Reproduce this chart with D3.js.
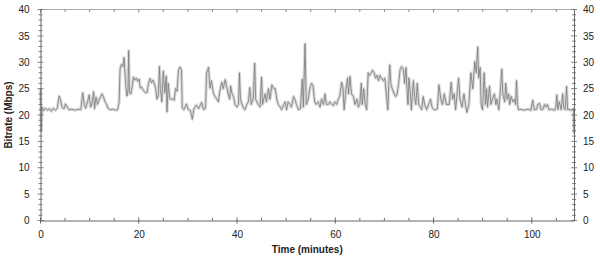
<!DOCTYPE html>
<html><head><meta charset="utf-8">
<script src="https://cdn.jsdelivr.net/npm/d3@7"></script>
<style>body{margin:0;background:#fff}svg{display:block;font-family:"Liberation Sans",Arial,sans-serif}</style>
</head><body><svg id="c" width="600" height="256"></svg>
<script>
const xTicks = [0, 20, 40, 60, 80, 100];
const yTicks = [0, 5, 10, 15, 20, 25, 30, 35, 40];
const timeMin = [0,0.15,0.3,0.6,1.0,1.4,1.8,2.2,2.6,3.0,3.4,3.8,4.1,4.4,4.8,5.1,5.4,5.8,6.4,7.0,7.6,8.2,8.6,8.9,9.2,9.6,9.9,10.2,10.5,10.8,11.0,11.3,11.6,11.9,12.2,12.5,12.8,13.1,13.4,13.8,14.3,14.8,15.3,15.7,16.0,16.2,16.5,16.8,17.0,17.2,17.4,17.6,17.8,17.95,18.1,18.4,18.7,18.9,19.2,19.5,19.8,20.1,20.3,20.6,21.0,21.4,21.7,22.0,22.3,22.6,22.9,23.2,23.5,23.7,24.0,24.2,24.4,24.7,25.0,25.3,25.6,25.75,26.0,26.3,26.6,26.9,27.2,27.5,27.8,28.1,28.4,28.7,28.85,29.2,29.7,30.1,30.5,30.9,31.2,31.7,32.2,32.8,33.2,33.6,33.8,34.2,34.5,34.8,35.2,35.5,35.9,36.2,36.5,36.9,37.2,37.6,37.9,38.2,38.5,38.7,39.0,39.3,39.6,40.0,40.3,40.5,40.7,41.2,41.6,42.0,42.3,42.6,42.9,43.3,43.6,43.8,44.3,44.7,45.0,45.2,45.7,46.0,46.4,46.7,47.1,47.5,47.8,48.1,48.4,48.8,49.1,49.5,49.8,50.1,50.4,50.8,51.1,51.5,51.8,52.1,52.5,52.9,53.3,53.5,53.85,54.1,54.5,54.9,55.2,55.5,55.8,56.1,56.5,56.9,57.2,57.6,57.9,58.2,58.6,58.9,59.3,59.6,59.9,60.3,60.6,60.9,61.3,61.6,61.8,62.2,62.5,62.7,63.0,63.3,63.7,64.0,64.4,64.7,65.0,65.3,65.5,65.8,66.1,66.4,66.7,67.0,67.3,67.6,67.9,68.2,68.5,68.8,69.1,69.4,69.8,70.1,70.4,70.7,70.95,71.1,71.3,71.6,72.0,72.3,72.6,72.9,73.2,73.5,73.9,74.1,74.4,74.6,74.8,75.0,75.3,75.5,75.9,76.2,76.4,76.7,77.0,77.3,77.6,77.9,78.2,78.6,79.0,79.4,79.7,80.1,80.5,80.8,81.1,81.5,81.8,82.2,82.6,83.2,83.6,83.9,84.2,84.5,84.9,85.1,85.4,85.8,86.2,86.5,86.8,87.2,87.6,88.0,88.4,88.7,89.0,89.2,89.5,89.7,90.0,90.3,90.6,90.8,91.0,91.4,91.7,92.0,92.4,92.7,92.9,93.3,93.6,93.9,94.1,94.5,94.7,95.0,95.3,95.5,95.8,96.2,96.5,96.7,96.9,97.1,97.3,97.8,98.3,98.8,99.3,99.8,100.2,100.5,101.0,101.2,101.6,101.9,102.3,102.6,102.9,103.2,103.5,104.0,104.6,104.9,105.1,105.3,105.6,106.0,106.3,106.5,106.8,107.1,107.3,107.6,107.9,108.2,108.5,108.6];
const bitrate = [25,17,21.5,20.8,21.3,20.9,21.2,20.7,21.3,20.9,21.2,23.6,22.8,21.4,21.2,22.1,21.6,21.0,21.1,20.9,21.1,21.0,24.2,22.0,21.3,22.6,23.8,21.5,22.2,24.4,21.2,23.4,22.0,22.8,23.4,24.0,23.5,22.6,22.1,21.2,21.0,21.1,20.9,21.0,22.4,28.8,29.6,29.2,30.9,28.0,25.2,23.6,24.5,32.2,24.2,24.0,25.6,27.2,26.6,27.0,26.4,26.8,25.1,25.3,24.6,24.2,24.3,26.1,26.9,26.1,26.6,25.9,24.6,23.0,23.8,29.2,25.0,22.5,28.3,24.2,27.4,20.6,26.0,23.2,22.9,23.1,22.8,25.0,24.5,28.6,29.1,28.5,21.3,21.0,22.1,21.0,20.9,19.2,21.1,21.9,21.2,22.4,21.0,21.3,28.0,29.0,25.1,26.5,24.1,23.5,23.0,22.5,24.5,26.2,25.0,26.7,25.4,24.0,23.0,25.5,24.0,23.5,22.0,21.5,22.0,28.0,23.0,21.5,21.0,22.0,22.5,25.2,22.0,23.0,29.8,23.0,22.0,21.5,27.2,22.0,24.0,22.5,25.0,23.0,25.7,25.0,25.0,23.0,22.0,21.5,21.0,22.0,22.5,21.0,22.5,22.0,21.5,23.5,23.0,22.0,21.0,21.2,26.8,21.5,33.5,22.0,23.0,25.4,26.0,25.5,22.5,22.0,22.5,21.5,23.0,22.0,24.0,22.0,22.0,22.5,22.0,21.8,22.5,22.0,23.0,23.5,26.2,25.0,21.0,25.0,27.0,24.0,27.3,24.0,23.5,22.0,23.0,21.5,22.0,26.0,22.0,25.0,22.0,21.0,28.0,27.5,28.0,28.5,28.0,27.0,27.5,26.5,27.5,27.0,26.5,27.0,24.0,21.0,27.0,29.5,26.0,25.0,24.0,23.5,24.0,26.0,28.6,29.2,28.5,26.0,29.0,25.0,22.0,27.0,24.0,21.0,26.5,23.0,22.0,26.0,22.0,21.5,21.0,23.5,22.0,21.0,22.0,23.0,21.5,21.0,21.0,21.2,25.7,23.0,22.0,24.0,22.0,22.0,26.2,23.0,24.0,21.0,25.0,27.0,23.0,21.5,24.0,22.0,20.5,22.0,28.0,25.0,30.1,28.0,32.9,27.0,29.0,22.0,21.0,28.0,22.0,25.0,21.5,25.5,22.0,23.0,24.0,22.0,23.0,21.0,24.5,28.7,24.0,22.5,26.0,23.0,24.0,22.0,23.5,22.5,23.0,22.0,26.5,22.0,21.0,21.1,20.9,21.0,21.1,20.9,22.8,21.0,21.1,22.0,22.2,21.0,21.1,22.0,21.5,22.0,21.0,21.1,20.9,21.5,23.8,21.0,22.5,21.0,24.0,21.5,21.0,25.4,21.0,21.1,20.9,21.0,21.2,16.5];

const svg = d3.select("#c");
const L = 40.5, R = 574, T = 9.5, B = 220.5;
const x = d3.scaleLinear().domain([0, 108.6]).range([L, R]);
const y = d3.scaleLinear().domain([0, 40]).range([B, T]);
const data = timeMin.map((t, i) => ({t, v: bitrate[i]}));
const line = d3.line().x(d => x(d.t)).y(d => y(d.v));

// data: light halo then thin darker trace
svg.append("path").datum(data).attr("d", line).attr("fill", "none")
  .attr("stroke", "#dadada").attr("stroke-width", 3.2).attr("stroke-linejoin", "round");
svg.append("path").datum(data).attr("d", line).attr("fill", "none")
  .attr("stroke", "#7a7a7a").attr("stroke-width", 0.8).attr("stroke-linejoin", "round");

// frame top
svg.append("line").attr("x1", L).attr("x2", R).attr("y1", T).attr("y2", T).attr("stroke", "#aaa");
const axc = "#666";

// bottom axis
const gb = svg.append("g").attr("transform", `translate(0,${B})`)
  .call(d3.axisBottom(x).tickValues(xTicks).tickSize(0).tickFormat(d3.format("d")).tickPadding(10));
gb.select(".domain").attr("stroke", axc);
gb.selectAll("text").attr("font-size", 10).attr("fill", "#222").attr("font-family", "Liberation Sans, Arial, sans-serif");
const minorX = d3.range(0, 108.6, 5);
minorX.forEach(t => {
  const major = t % 20 === 0;
  svg.append("line").attr("x1", x(t)).attr("x2", x(t)).attr("y1", B - (major ? 3 : 2.5)).attr("y2", B + (major ? 3 : 0)).attr("stroke", axc);
  svg.append("line").attr("x1", x(t)).attr("x2", x(t)).attr("y1", T).attr("y2", T + (major ? 3 : 2.5)).attr("stroke", "#888");
});

// left axis
const gl = svg.append("g").attr("transform", `translate(${L},0)`)
  .call(d3.axisLeft(y).tickValues(yTicks).tickSize(0).tickPadding(11));
gl.select(".domain").attr("stroke", axc);
gl.selectAll("text").attr("font-size", 10).attr("fill", "#222").attr("font-family", "Liberation Sans, Arial, sans-serif");
// right axis
const gr = svg.append("g").attr("transform", `translate(${R},0)`)
  .call(d3.axisRight(y).tickValues(yTicks).tickSize(0).tickPadding(9));
gr.select(".domain").attr("stroke", axc);
gr.selectAll("text").attr("font-size", 10).attr("fill", "#222").attr("font-family", "Liberation Sans, Arial, sans-serif");
d3.range(0, 41, 1).forEach(v => {
  const major = v % 5 === 0;
  const h = major ? 3 : 2;
  [L, R].forEach(ax => {
    svg.append("line").attr("x1", ax - h).attr("x2", ax + h).attr("y1", y(v)).attr("y2", y(v)).attr("stroke", axc).attr("stroke-width", 0.8);
  });
});

// titles
svg.append("text").attr("x", (L + R) / 2).attr("y", 253).attr("text-anchor", "middle")
  .attr("font-size", 10).attr("font-weight", "bold").attr("fill", "#222").text("Time (minutes)");
svg.append("text").attr("transform", `translate(12,${(T + B) / 2}) rotate(-90)`).attr("text-anchor", "middle")
  .attr("font-size", 10).attr("font-weight", "bold").attr("fill", "#222").text("Bitrate (Mbps)");
</script></body></html>
